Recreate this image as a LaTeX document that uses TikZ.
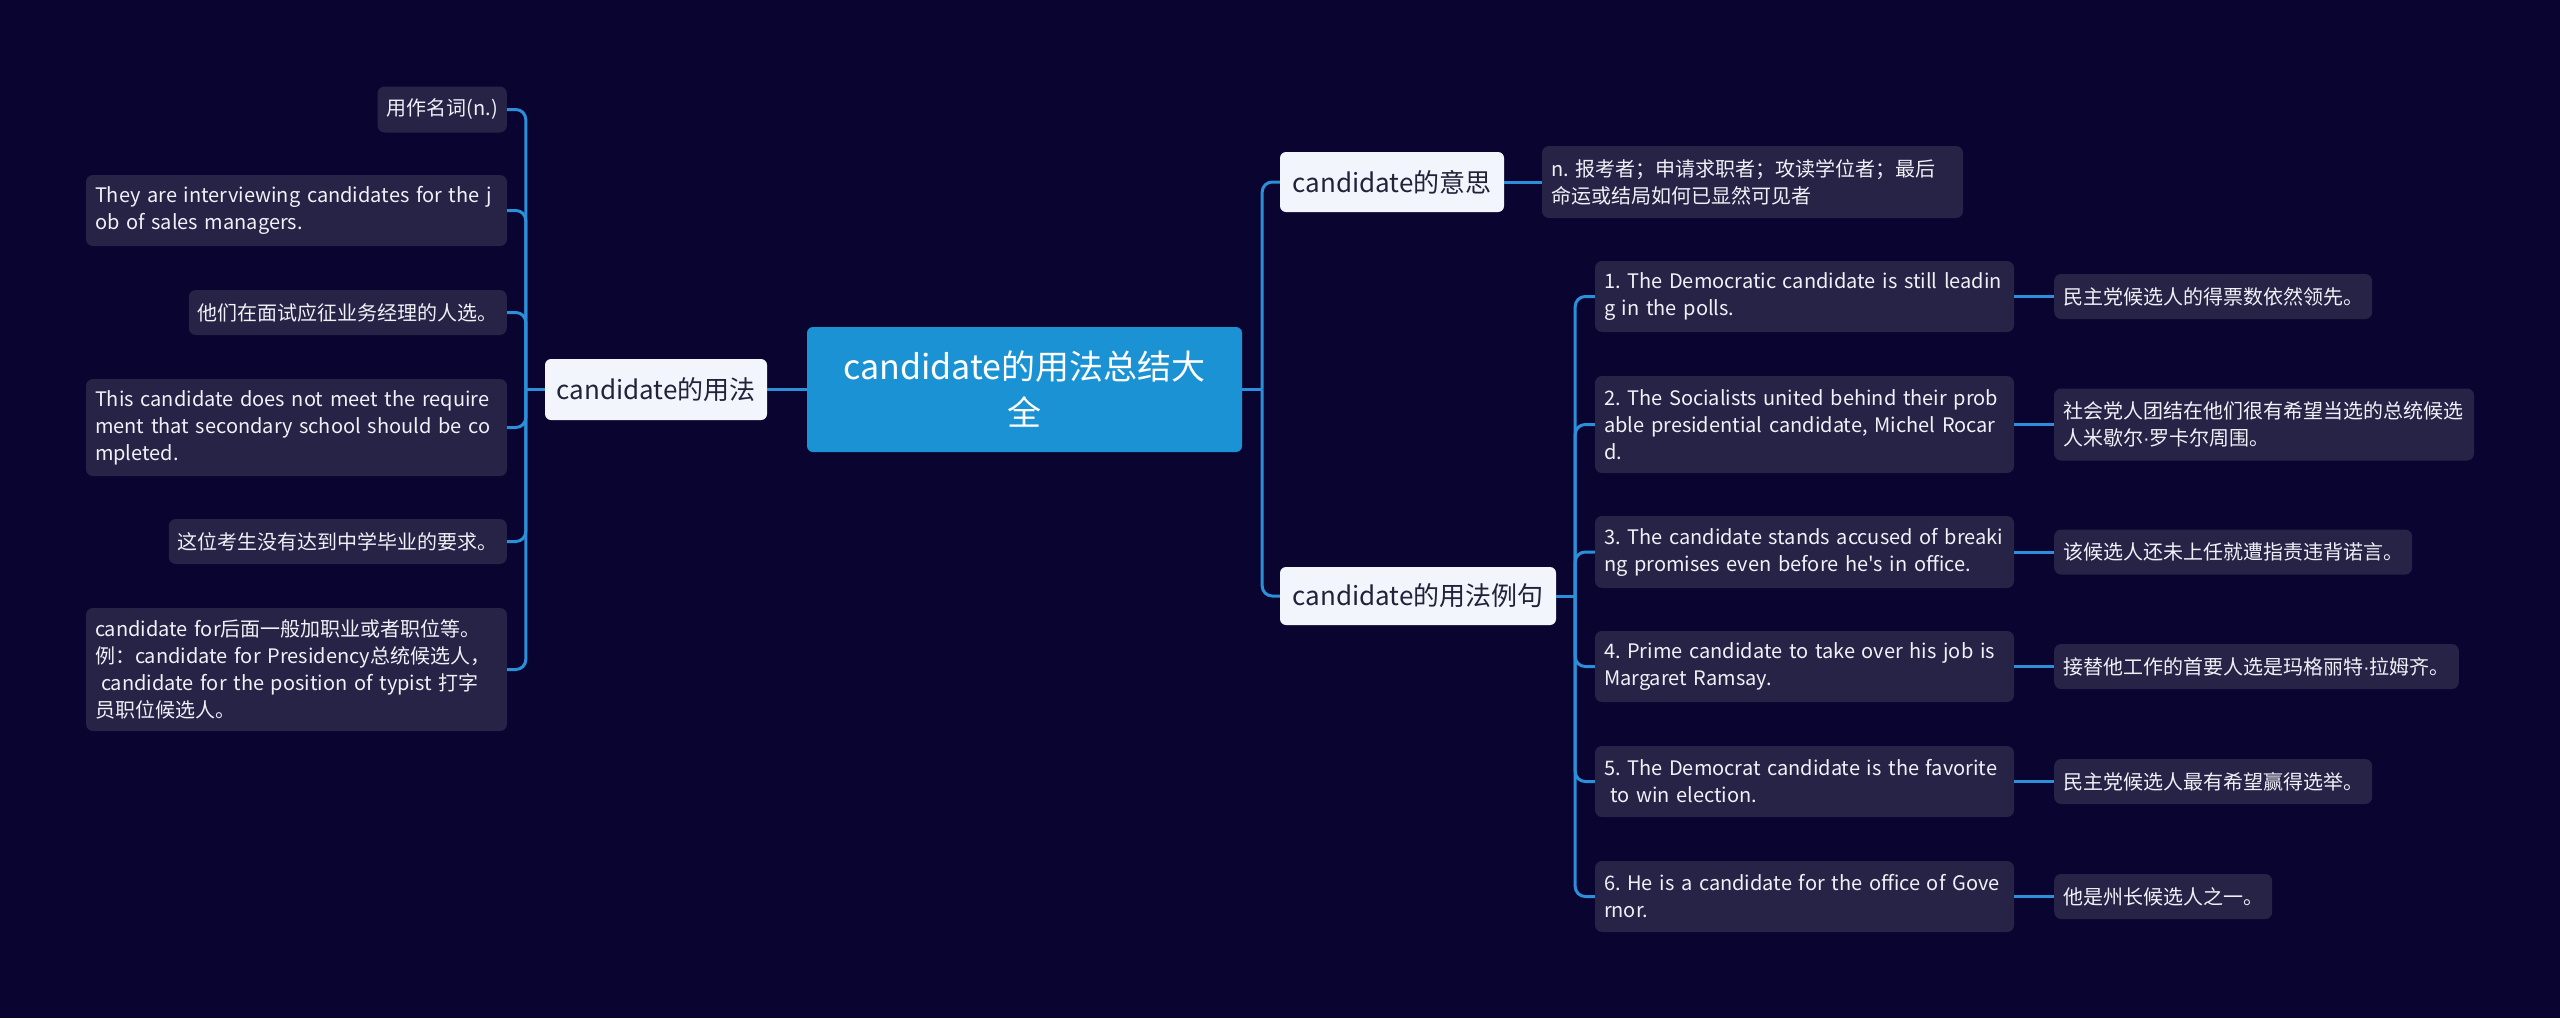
\documentclass[tikz,border=0pt]{standalone}
\usepackage{fontspec}
\newfontfamily\cjk{Noto Sans CJK SC}
\newfontfamily\latn{Liberation Sans}
\newcommand\mdot{{\latn ·}}
\definecolor{bgc}{HTML}{0A0530}
\definecolor{leafc}{HTML}{262346}
\definecolor{leaftext}{HTML}{F0F0F6}
\definecolor{linec}{HTML}{2B8FD9}
\definecolor{centerc}{HTML}{1A92D3}
\definecolor{lvlc}{HTML}{F2F5FB}
\definecolor{lvltext}{HTML}{22223A}
\begin{document}
\begin{tikzpicture}[x=1pt,y=-1pt,
  leaf/.style={fill=leafc, rounded corners=7pt, text=leaftext,
    font=\cjk\fontsize{20}{27}\selectfont\frenchspacing, inner xsep=9pt, inner ysep=0pt, align=left},
  lvl/.style={fill=lvlc, rounded corners=6pt, text=lvltext,
    font=\cjk\fontsize{26}{32}\selectfont, inner sep=0pt, align=center},
  root/.style={fill=centerc, rounded corners=6pt, text=white,
    font=\cjk\fontsize{34}{46}\selectfont, inner sep=0pt, align=center},
  conn/.style={draw=linec, line width=3pt, rounded corners=10pt}]
\useasboundingbox[fill=bgc] (0,0) rectangle (2560,1018);

% main nodes
\node[root, minimum width=435pt, minimum height=125pt] (C) at (1024.5,389.5) {candidate的用法总结大\\全};
\node[lvl, minimum width=222pt, minimum height=61pt] (U) at (656,389.5) {candidate的用法};
\node[lvl, minimum width=224pt, minimum height=60pt] (M) at (1392,182) {candidate的意思};
\node[lvl, minimum width=276pt, minimum height=58pt] (E) at (1418,596) {candidate的用法例句};

% left leaves
\node[leaf, anchor=east, minimum height=46pt] (L1) at (507,109.5) {用作名词(n.)};
\node[leaf, text width=403pt, minimum height=71pt] (L2) at (296.5,210.5) {They are interviewing candidates for the j\\ob of sales managers.};
\node[leaf, anchor=east, minimum height=45pt] (L3) at (507,312.5) {他们在面试应征业务经理的人选。};
\node[leaf, text width=403pt, minimum height=97pt] (L4) at (296.5,427.5) {This candidate does not meet the require\\ment that secondary school should be co\\mpleted.};
\node[leaf, anchor=east, minimum height=45pt] (L5) at (507,541.5) {这位考生没有达到中学毕业的要求。};
\node[leaf, text width=403pt, minimum height=123pt] (L6) at (296.5,669.5) {candidate for后面一般加职业或者职位等。\\例：candidate for Presidency总统候选人，\\\hspace*{0.3em}candidate for the position of typist 打字\\员职位候选人。};

% definition
\node[leaf, text width=403pt, minimum height=72pt] (D) at (1752.5,182) {n. 报考者；申请求职者；攻读学位者；最后\\命运或结局如何已显然可见者};

% examples
\node[leaf, text width=401pt, minimum height=71pt] (X1) at (1804.5,296.5) {1. The Democratic candidate is still leadin\\g in the polls.};
\node[leaf, text width=401pt, minimum height=97pt] (X2) at (1804.5,424.5) {2. The Socialists united behind their prob\\able presidential candidate, Michel Rocar\\d.};
\node[leaf, text width=401pt, minimum height=72pt] (X3) at (1804.5,552) {3. The candidate stands accused of breaki\\ng promises even before he's in office.};
\node[leaf, text width=401pt, minimum height=71pt] (X4) at (1804.5,666.5) {4. Prime candidate to take over his job is\\Margaret Ramsay.};
\node[leaf, text width=401pt, minimum height=71pt] (X5) at (1804.5,781.5) {5. The Democrat candidate is the favorite\\\hspace*{0.3em}to win election.};
\node[leaf, text width=401pt, minimum height=71pt] (X6) at (1804.5,896.5) {6. He is a candidate for the office of Gove\\rnor.};

% translations
\node[leaf, anchor=west, minimum height=45pt] (T1) at (2054,296.5) {民主党候选人的得票数依然领先。};
\node[leaf, text width=402pt, minimum height=72pt] (T2) at (2264,424.5) {社会党人团结在他们很有希望当选的总统候选\\人米歇尔\mdot 罗卡尔周围。};
\node[leaf, anchor=west, minimum height=45pt] (T3) at (2054,552) {该候选人还未上任就遭指责违背诺言。};
\node[leaf, anchor=west, minimum height=45pt] (T4) at (2054,666.5) {接替他工作的首要人选是玛格丽特\mdot 拉姆齐。};
\node[leaf, anchor=west, minimum height=45pt] (T5) at (2054,781.5) {民主党候选人最有希望赢得选举。};
\node[leaf, anchor=west, minimum height=45pt] (T6) at (2054,896.5) {他是州长候选人之一。};

% connectors
\draw[conn] (C.west) -- (U.east);
\coordinate (uj) at ([xshift=-19pt]U.west);
\draw[conn] (U.west) -- (uj);
\foreach \n in {L1,L2,L3,L4,L5,L6} \draw[conn] (uj) |- (\n.east);

\coordinate (cj) at ([xshift=20pt]C.east);
\draw[conn] (C.east) -- (cj);
\draw[conn] (cj) |- (M.west);
\draw[conn] (cj) |- (E.west);
\draw[conn] (M.east) -- (D.west);

\coordinate (ej) at ([xshift=19pt]E.east);
\draw[conn] (E.east) -- (ej);
\foreach \n in {X1,X2,X3,X4,X5,X6} \draw[conn] (ej) |- (\n.west);
\foreach \i in {1,...,6} \draw[conn] (X\i.east) -- (T\i.west);
\end{tikzpicture}
\end{document}
